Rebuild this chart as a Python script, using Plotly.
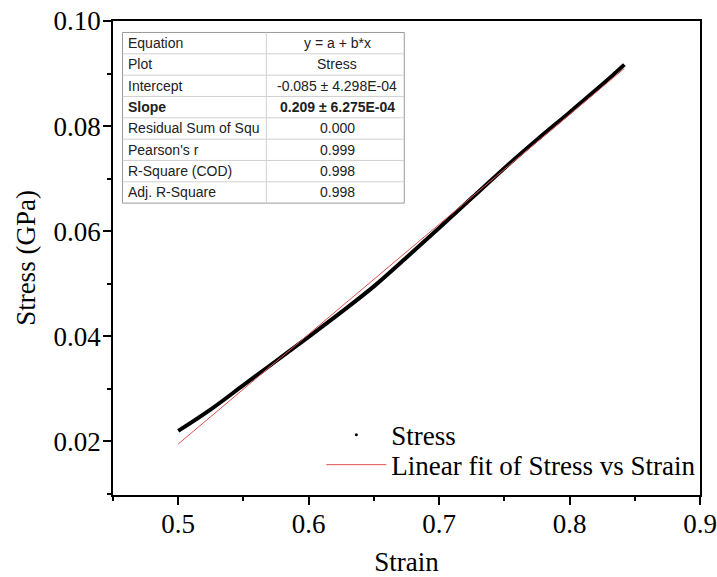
import plotly.graph_objects as go

# ---- data ----
strain = [0.500, 0.525, 0.550, 0.575, 0.600, 0.625, 0.650, 0.675, 0.700,
          0.725, 0.750, 0.775, 0.800, 0.825, 0.842]
stress = [0.0220, 0.0261, 0.0307, 0.0353, 0.0399, 0.0446, 0.0495, 0.0550, 0.0606,
          0.0663, 0.0720, 0.0774, 0.0826, 0.0879, 0.0917]
fit_intercept = -0.085
fit_slope = 0.209
fit_x = [0.500, 0.842]

table_labels = ["Equation", "Plot", "Intercept", "<b>Slope</b>", "Residual Sum of Squ",
                "Pearson's r", "R-Square (COD)", "Adj. R-Square"]
table_values = ["y = a + b*x", "Stress", "-0.085 ± 4.298E-04", "<b>0.209 ± 6.275E-04</b>",
                "0.000", "0.999", "0.998", "0.998"]

x_ticks = [0.5, 0.6, 0.7, 0.8, 0.9]
y_ticks = [0.02, 0.04, 0.06, 0.08, 0.10]

# ---- layout geometry (pixels) ----
W, H = 717, 577
L, R, T, B = 112.5, 17, 20.5, 81.5
pw, ph = W - L - R, H - T - B


def px(xp):
    return (xp - L) / pw


def py(yp):
    return (H - B - yp) / ph


serif = "Liberation Serif"
sans = "Liberation Sans"

fig = go.Figure()

fit_y = [fit_intercept + fit_slope * v for v in fit_x]

fig.add_trace(go.Scatter(x=strain, y=stress, mode="lines", line=dict(color="black", width=4),
                         line_shape="spline", showlegend=False, hoverinfo="skip"))
fig.add_trace(go.Scatter(x=[None], y=[None], mode="markers", name="Stress", legend="legend",
                         marker=dict(color="black", size=3)))
fig.add_trace(go.Scatter(x=fit_x, y=fit_y, mode="lines", name="Linear fit of Stress vs Strain",
                         legend="legend2", line=dict(color="#d9534f", width=1)))

# ---- table ----
tl, tr, tt, tb = 122, 404, 32, 203
tc = 266
nrows = len(table_labels)
rh = (tb - tt) / nrows
shapes = []
annotations = []
shapes.append(dict(type="rect", xref="paper", yref="paper", x0=px(tl), x1=px(tr), y0=py(tb), y1=py(tt),
                   line=dict(color="#9a9a9a", width=1), fillcolor="white", layer="above"))
for i in range(1, nrows):
    yy = tt + i * rh
    shapes.append(dict(type="line", xref="paper", yref="paper", x0=px(tl), x1=px(tr), y0=py(yy), y1=py(yy),
                       line=dict(color="#d0d0d0", width=1), layer="above"))
shapes.append(dict(type="line", xref="paper", yref="paper", x0=px(tc), x1=px(tc), y0=py(tb), y1=py(tt),
                   line=dict(color="#d0d0d0", width=1), layer="above"))
for i, (lab, val) in enumerate(zip(table_labels, table_values)):
    yc = tt + (i + 0.5) * rh
    annotations.append(dict(xref="paper", yref="paper", x=px(tl + 4), y=py(yc), text=lab, showarrow=False,
                            xanchor="left", yanchor="middle", font=dict(family=sans, size=14, color="#222")))
    annotations.append(dict(xref="paper", yref="paper", x=px((tc + tr) / 2 + 2), y=py(yc), text=val,
                            showarrow=False, xanchor="center", yanchor="middle",
                            font=dict(family=sans, size=14, color="#222")))

axis_common = dict(showline=True, linecolor="black", linewidth=1.5, mirror=True, ticks="outside",
                   tickcolor="black", tickwidth=1.5, ticklen=8, showgrid=False, zeroline=False,
                   automargin=False, tickfont=dict(family=serif, size=27, color="black"))

legend_common = dict(xanchor="left", yanchor="top", bgcolor="rgba(0,0,0,0)",
                     font=dict(family=serif, size=27, color="black"), itemwidth=60)

fig.update_layout(
    width=W, height=H,
    margin=dict(l=L, r=R, t=T, b=B),
    paper_bgcolor="white", plot_bgcolor="white",
    xaxis=dict(range=[0.45, 0.9], tickvals=x_ticks, ticktext=[f"{v:.1f}" for v in x_ticks],
               ticklabelstandoff=-4,
               minor=dict(ticks="outside", dtick=0.05, tick0=0.45, ticklen=4, tickcolor="black", tickwidth=1.5),
               title=dict(text="Strain", font=dict(family=serif, size=27, color="black"), standoff=22),
               **axis_common),
    yaxis=dict(range=[0.0098, 0.10], tickvals=y_ticks, ticktext=[f"{v:.2f}" for v in y_ticks],
               ticklabelstandoff=-3,
               minor=dict(ticks="outside", dtick=0.01, tick0=0.0, ticklen=4, tickcolor="black", tickwidth=1.5),
               title=dict(text="Stress (GPa)", font=dict(family=serif, size=27, color="black"), standoff=10),
               **axis_common),
    legend=dict(x=px(321), y=py(411), **legend_common),
    legend2=dict(x=px(321), y=py(441), **legend_common),
    shapes=shapes,
    annotations=annotations,
)

fig.write_html("out.html")
